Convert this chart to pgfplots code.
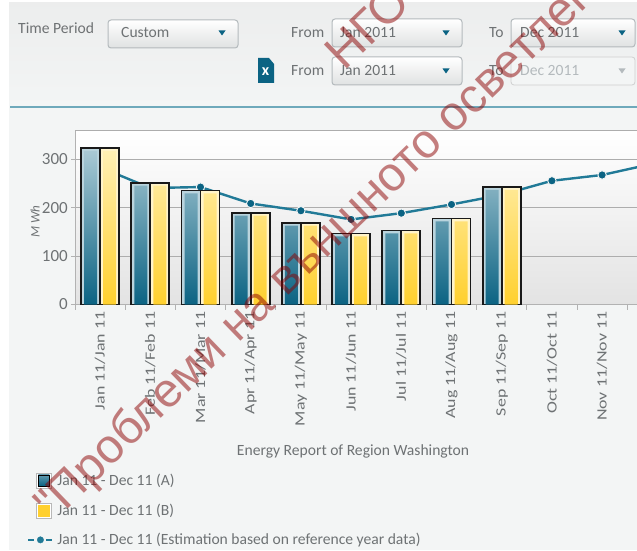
\documentclass[border=0pt]{standalone}
\usepackage{pgfplots}
\pgfplotsset{compat=1.18}
\usepackage{pgfplotstable}
\usepackage{fontspec}
\setmainfont{Carlito}
\newfontfamily\wm{Liberation Sans}
\newfontfamily\tickf[FakeStretch=1.26]{Carlito}
\definecolor{teal}{HTML}{0B6383}
\definecolor{tealtop}{HTML}{A9C9D4}
\definecolor{yel}{HTML}{FFD02E}
\definecolor{yeltop}{HTML}{FFF0B4}
\definecolor{linec}{HTML}{217A97}
\definecolor{txt}{HTML}{6E7274}
\definecolor{panel}{HTML}{F3F5F5}
\definecolor{boxe}{HTML}{B4BABD}
\pgfplotstableread{
x a ia
0 324 318
1 252 246
2 236 230
3 190 184
4 169 163
5 147 141
6 153 147
7 178 172
8 243 237
}\bars
\pgfplotstableread{
x y
0 284
1 241
2 243
3 209
4 194
5 176
6 189
7 207
8 227
9 256
10 268
11 291
}\est
\begin{document}
\begin{tikzpicture}[x=1pt,y=1pt]
\useasboundingbox (0,0) rectangle (637,550);
\clip (0,0) rectangle (637,550);
\fill[white] (0,0) rectangle (637,550);
\fill[panel] (9,0) rectangle (637,547);
\fill[top color=panel!92!black!60!white,bottom color=panel] (9,547) rectangle (637,443);
\fill[color=linec!65!white] (10,441.8) rectangle (637,444);
% controls
\foreach \xx/\yy/\ww in {108/530/130,332/531/130,511/531/124,332/493/130}
  \draw[boxe,line width=1pt,rounded corners=3pt,top color=white,bottom color=panel!92!black] (\xx,\yy) rectangle ++(\ww,-28);
\draw[panel!85!black,line width=.8pt,rounded corners=3pt,fill=panel] (511,493) rectangle ++(124,-28);
\foreach \xx/\yy in {222/517,446/517,622/517,446/479}
  \fill[teal] (\xx-3.5,\yy+2.5) -- (\xx+3.5,\yy+2.5) -- (\xx,\yy-2.5) -- cycle;
\fill[boxe] (622-3.5,479+2.5) -- (622+3.5,479+2.5) -- (622,479-2.5) -- cycle;
\fill[teal] (258,492) -- (269,492) -- (274,486) -- (274,467) -- (258,467) -- cycle;
\tikzset{ui/.style={text=txt,font=\fontsize{15.6}{15.6}\selectfont,inner sep=0pt,anchor=base west}}
\node[ui] at (18,516) {Time Period};
\node[ui] at (121,512) {Custom};
\node[ui] at (291,512) {From};
\node[ui] at (340,512) {Jan 2011};
\node[ui] at (489,512) {To};
\node[ui] at (520,512) {Dec 2011};
\node[ui] at (291,474.5) {From};
\node[ui] at (340,474.5) {Jan 2011};
\node[ui] at (489,474.5) {To};
\node[ui,text=boxe] at (520,474.5) {Dec 2011};
\node[text=white,font=\bfseries\fontsize{16}{16}\selectfont,inner sep=0pt] at (265.5,478) {x};
\begin{axis}[
  at={(75pt,245.5pt)},anchor=south west,
  scale only axis,width=562pt,height=174pt,
  xmin=-0.5,xmax=10.695,ymin=0,ymax=360,
  axis background/.style={top color=white,bottom color=black!11},
  axis line style={draw=black!30,line width=.9pt},
  axis x line*=bottom,axis y line*=left,
  clip=true,
  clip mode=individual,
  /pgf/number format/assume math mode=true,
  ytick={0,100,200,300},
  ymajorgrids,
  grid style={draw=black!32,line width=1pt},
  extra y ticks={360},extra y tick labels={},
  extra y tick style={major tick length=0pt,grid=major},
  xtick={0,...,10},
  xticklabels={Jan 11/Jan 11,Feb 11/Feb 11,Mar 11/Mar 11,Apr 11/Apr 11,May 11/May 11,Jun 11/Jun 11,Jul 11/Jul 11,Aug 11/Aug 11,Sep 11/Sep 11,Oct 11/Oct 11,Nov 11/Nov 11},
  minor xtick={-0.5,0.5,1.5,2.5,3.5,4.5,5.5,6.5,7.5,8.5,9.5,10.5},
  major x tick style={draw=none},
  minor x tick style={draw=black!30,line width=.8pt},
  minor tick length=5pt,
  major tick length=4pt,
  tick align=outside,
  y tick style={draw=black!30,line width=.8pt},
  xticklabel shift=3pt,
  xticklabel style={rotate=90,anchor=east,text=txt,font=\tickf\fontsize{14.2}{14.2}\selectfont,inner sep=0pt},
  yticklabel style={text=txt,font=\fontsize{17}{17}\selectfont,inner sep=0pt,xshift=-3pt},
  ylabel={\textit{M Wh}},
  ylabel style={at={(axis description cs:-0.071,0.477)},anchor=center,rotate=0,text=txt,font=\fontsize{13}{13}\selectfont},
  xlabel={Energy Report of Region Washington},
  xlabel style={at={(axis description cs:0.4947,-0.845)},anchor=center,text=txt,font=\fontsize{15.6}{15.6}\selectfont},
  legend style={at={(axis description cs:-0.085,-0.965)},anchor=north west,draw=none,fill=none,
    font=\fontsize{15.6}{15.6}\selectfont,text=txt,row sep=15pt,inner sep=0pt,
    nodes={inner sep=0pt},/tikz/column 1/.style={column sep=4pt}},
  legend cell align=left,
]
\addplot[line width=2.4pt,color=linec,mark=*,mark size=4.2pt,mark options={draw=panel,line width=.9pt,fill=teal},forget plot] table[x=x,y=y] {\est};
% outer bars: black outline, pale inner border
\addplot[ybar,bar width=19pt,bar shift=-9.5pt,draw=black!90,line width=1.7pt,fill=tealtop!80!white,forget plot] table[x=x,y=a] {\bars};
\addplot[ybar,bar width=19pt,bar shift=9.5pt,draw=black!90,line width=1.7pt,fill=yeltop!70!white,forget plot] table[x=x,y=a] {\bars};
% inner gradient
\addplot[ybar,bar width=13pt,bar shift=-9.5pt,draw=none,top color=tealtop,bottom color=teal,forget plot] table[x=x,y=ia] {\bars};
\addplot[ybar,bar width=13pt,bar shift=9.5pt,draw=none,top color=yeltop,bottom color=yel,forget plot] table[x=x,y=ia] {\bars};
\addlegendimage{legend image code/.code={\fill[black!28] (8pt,-7.5pt) rectangle ++(15pt,15pt);\fill[white] (9pt,-6.5pt) rectangle ++(13pt,13pt);\fill[top color=teal!65!white,bottom color=teal] (10pt,-5.5pt) rectangle ++(11pt,11pt);}}
\addlegendentry{Jan 11 - Dec 11 (A)}
\addlegendimage{legend image code/.code={\fill[black!28] (8pt,-7.5pt) rectangle ++(15pt,15pt);\fill[white] (9pt,-6.5pt) rectangle ++(13pt,13pt);\fill[yel] (10pt,-5.5pt) rectangle ++(11pt,11pt);}}
\addlegendentry{Jan 11 - Dec 11 (B)}
\addlegendimage{legend image code/.code={\draw[linec,line width=2pt] (0pt,0pt) -- (6pt,0pt);\draw[linec,line width=2pt] (18pt,0pt) -- (24pt,0pt);\fill[linec] (12pt,0pt) circle (3.2pt);}}
\addlegendentry{Jan 11 - Dec 11 (Estimation based on reference year data)}
\end{axis}
% watermark
\node[rotate=44,anchor=base west,inner sep=0pt,text=red!55!black,opacity=.5,font=\wm\fontsize{48}{48}\selectfont] at (53,27) {"Проблеми на външното осветление};
\node[rotate=44,anchor=base west,inner sep=0pt,text=red!55!black,opacity=.5,font=\wm\fontsize{48}{48}\selectfont] at (344,478) {НГО};
\end{tikzpicture}
\end{document}
